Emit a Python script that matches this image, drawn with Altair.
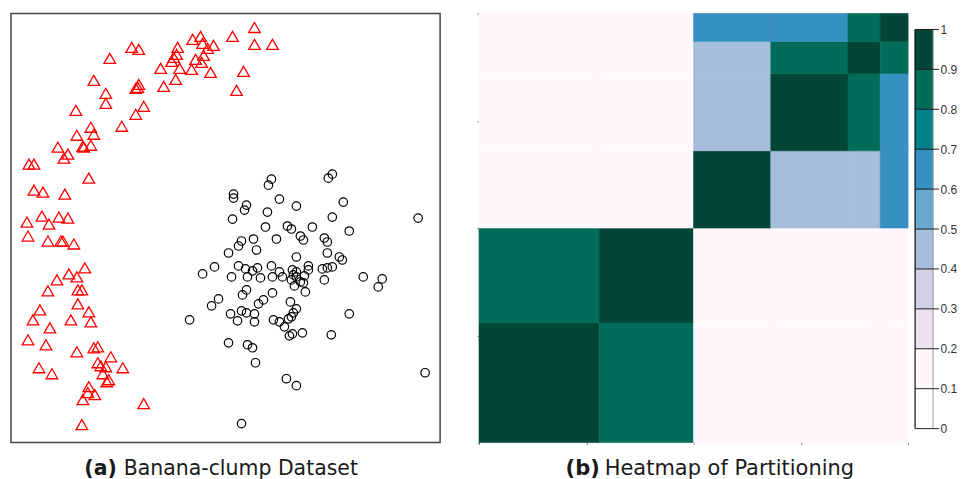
import altair as alt
import numpy as np
import pandas as pd

# ---------------- (a) Banana-clump dataset ----------------
banana_x = [254, 232, 254, 272, 200, 192, 202, 213, 207, 177, 131, 138, 109, 176, 173, 203,
            195, 171, 201, 160, 179, 191, 210, 243, 175, 163, 236, 93, 138, 137, 135, 105,
            105, 143, 135, 75, 121, 90, 93, 76, 82, 90, 57, 67, 63, 83, 28, 33,
            88, 33, 42, 64, 26, 41, 48, 58, 67, 27, 47, 60, 62, 73, 84, 68,
            76, 56, 47, 77, 81, 77, 39, 88, 32, 70, 90, 49, 27, 45, 76, 93,
            97, 110, 97, 100, 105, 122, 38, 51, 102, 108, 106, 88, 87, 94, 82, 143, 81]
banana_y = [26, 35, 43, 43, 35, 38, 42, 44, 47, 46, 46, 48, 57, 53, 56, 54,
            58, 60, 61, 67, 67, 68, 71, 70, 78, 85, 89, 79, 83, 86, 87, 92,
            102, 105, 113, 109, 125, 126, 133, 134, 145, 144, 146, 153, 157, 146, 163, 163,
            177, 189, 191, 193, 221, 215, 223, 216, 217, 235, 240, 240, 240, 243, 267, 273,
            276, 279, 290, 289, 289, 303, 309, 311, 319, 319, 321, 327, 339, 344, 351, 347,
            346, 356, 362, 365, 366, 367, 367, 373, 373, 379, 381, 386, 392, 394, 399, 403, 424]

clump_x = [332, 328, 271, 268, 233, 233, 279, 343, 246, 296, 244, 267, 332, 232, 418, 265,
           287, 291, 312, 349, 300, 303, 253, 241, 238, 276, 324, 327, 256, 228, 327, 296,
           339, 342, 214, 238, 245, 252, 257, 271, 279, 282, 202, 231, 247, 260, 272, 292,
           296, 308, 308, 322, 327, 332, 293, 296, 304, 291, 300, 303, 294, 324, 363, 382,
           378, 246, 242, 305, 272, 218, 211, 263, 258, 290, 296, 293, 291, 288, 241, 246,
           254, 230, 237, 254, 273, 279, 284, 349, 189, 302, 292, 289, 331, 228, 247, 252,
           255, 286, 296, 425, 241]
clump_y = [173, 177, 178, 184, 193, 197, 198, 201, 204, 205, 209, 211, 216, 218, 217, 226,
           225, 228, 226, 230, 235, 239, 238, 240, 245, 238, 237, 241, 249, 252, 252, 256,
           256, 259, 266, 265, 268, 270, 267, 265, 271, 276, 273, 276, 276, 277, 276, 269,
           271, 265, 269, 268, 267, 266, 274, 276, 275, 279, 281, 282, 285, 279, 276, 278,
           286, 289, 294, 291, 292, 298, 305, 299, 303, 301, 308, 312, 316, 318, 310, 312,
           313, 313, 320, 321, 319, 321, 326, 313, 319, 332, 333, 335, 334, 342, 344, 347,
           362, 378, 385, 372, 423]

# ---------------- (b) Heatmap of partitioning ----------------
cluster_sizes = [56, 44, 36, 36, 15, 13]
consensus = [
    [0.95, 0.85, 0.15, 0.15, 0.15, 0.15],
    [0.85, 0.95, 0.15, 0.15, 0.15, 0.15],
    [0.15, 0.15, 0.95, 0.45, 0.45, 0.65],
    [0.15, 0.15, 0.45, 0.95, 0.85, 0.65],
    [0.15, 0.15, 0.45, 0.85, 0.95, 0.85],
    [0.15, 0.15, 0.65, 0.65, 0.85, 0.95],
]
bin_edges = [0.1, 0.2, 0.3, 0.4, 0.5, 0.6, 0.7, 0.8, 0.9]
palette = ["#ffffff", "#fff7fb", "#ece2f0", "#d0d1e6", "#a6bddb",
           "#67a9cf", "#3690c0", "#02818a", "#016c59", "#014636"]
bar_lo = [0.0, 0.1, 0.2, 0.3, 0.4, 0.5, 0.6, 0.7, 0.8, 0.9]
bar_hi = [0.1, 0.2, 0.3, 0.4, 0.5, 0.6, 0.7, 0.8, 0.9, 1.0]
bar_ticks = [0, 0.1, 0.2, 0.3, 0.4, 0.5, 0.6, 0.7, 0.8, 0.9, 1]
heat_ticks = [0, 50, 100, 150, 200]

caption_a = ["(a)", "Banana-clump Dataset"]
caption_b = ["(b)", "Heatmap of Partitioning"]

CAP_FONT = "DejaVu Sans"
CAP_SIZE = 20.5
CAP_COLOR = "#1a1a1a"

# ---------------- left panel ----------------
df_ban = pd.DataFrame({"x": banana_x, "y": -np.array(banana_y)})
df_clu = pd.DataFrame({"x": clump_x, "y": -np.array(clump_y)})
xs = alt.Scale(domain=[10, 440], nice=False, zero=False)
ys = alt.Scale(domain=[-442, -12], nice=False, zero=False)

tri = alt.Chart(df_ban).mark_point(shape="triangle-up", filled=False, color="#ff0000",
                                   size=135, strokeWidth=1.3, opacity=1).encode(
    x=alt.X("x:Q", scale=xs, axis=None),
    y=alt.Y("y:Q", scale=ys, axis=None),
)
cir = alt.Chart(df_clu).mark_point(shape="circle", filled=False, color="#000000",
                                   size=72, strokeWidth=1.2, opacity=1).encode(
    x=alt.X("x:Q", scale=xs, axis=None),
    y=alt.Y("y:Q", scale=ys, axis=None),
)


def caption(parts, x_bold, x_text, size=CAP_SIZE):
    b = alt.Chart(pd.DataFrame({"t": [parts[0]]})).mark_text(
        align="right", baseline="alphabetic", font=CAP_FONT, fontSize=size,
        fontWeight="bold", color=CAP_COLOR).encode(
        text="t:N", x=alt.value(x_bold), y=alt.value(462))
    t = alt.Chart(pd.DataFrame({"t": [parts[1]]})).mark_text(
        align="left", baseline="alphabetic", font=CAP_FONT, fontSize=size,
        color=CAP_COLOR).encode(
        text="t:N", x=alt.value(x_text), y=alt.value(462))
    return [b, t]


left = alt.layer(tri, cir, *caption(caption_a, 106, 113)).properties(
    width=430, height=430,
    view=alt.ViewBackground(stroke="#444444", strokeWidth=1.5),
)

# ---------------- heatmap ----------------
ends = np.cumsum(cluster_sizes)
starts = ends - np.array(cluster_sizes)
rows = []
for i in range(len(cluster_sizes)):
    for j in range(len(cluster_sizes)):
        rows.append({"x": starts[j], "x2": ends[j], "y": starts[i], "y2": ends[i],
                     "v": consensus[i][j]})
df_heat = pd.DataFrame(rows)

cscale = alt.Scale(type="threshold", domain=bin_edges, range=palette)
tick_axis = dict(values=heat_ticks, labels=False, domain=False, grid=False,
                 tickSize=2, tickColor="#777777", tickWidth=1, title=None)

heat = alt.Chart(df_heat).mark_rect(strokeWidth=0.6).encode(
    x=alt.X("x:Q", scale=alt.Scale(domain=[0, 200], nice=False, zero=False),
            axis=alt.Axis(**tick_axis)),
    x2="x2:Q",
    y=alt.Y("y:Q", scale=alt.Scale(domain=[0, 200], nice=False, zero=False),
            axis=alt.Axis(**tick_axis)),
    y2="y2:Q",
    color=alt.Color("v:Q", scale=cscale, legend=None),
    stroke=alt.Stroke("v:Q", scale=cscale, legend=None),
)
heat_panel = alt.layer(heat, *caption(caption_b, 121, 126, 21)).properties(width=430, height=430)

# ---------------- colour bar ----------------
df_bar = pd.DataFrame({"lo": bar_lo, "hi": bar_hi,
                       "mid": (np.array(bar_lo) + np.array(bar_hi)) / 2})
bscale = alt.Scale(domain=[-0.035, 1.04], nice=False, zero=False)
bar_axis = alt.Axis(orient="right", values=bar_ticks, ticks=False, domain=False,
                    grid=False, labelPadding=7, labelFont="Liberation Sans",
                    labelFontSize=12, labelColor="#333333", title=None,
                    format="~g", labelFlush=False, labelOverlap=False)
bar = alt.Chart(df_bar).mark_rect(strokeWidth=0.5).encode(
    x=alt.value(0), x2=alt.value(18),
    y=alt.Y("lo:Q", scale=bscale, axis=bar_axis, title=None),
    y2="hi:Q",
    color=alt.Color("mid:Q", scale=cscale, legend=None),
    stroke=alt.Stroke("mid:Q", scale=cscale, legend=None),
)
df_ticks = pd.DataFrame({"lo": bar_ticks})
bar_tick_rules = alt.Chart(df_ticks).mark_rule(color="#222222", strokeWidth=1).encode(
    x=alt.value(0), x2=alt.value(24), y=alt.Y("lo:Q", scale=bscale, axis=bar_axis, title=None))
df_edge = pd.DataFrame({"lo": [0.0], "hi": [1.0]})
left_edge = alt.Chart(df_edge).mark_rule(color="#111111", strokeWidth=1.2).encode(
    x=alt.value(0), y=alt.Y("lo:Q", scale=bscale, axis=bar_axis, title=None), y2="hi:Q")
right_edge = alt.Chart(df_edge).mark_rule(color="#9a9a9a", strokeWidth=1).encode(
    x=alt.value(18), y=alt.Y("lo:Q", scale=bscale, axis=bar_axis, title=None), y2="hi:Q")
bar_panel = alt.layer(bar, right_edge, left_edge, bar_tick_rules).properties(width=18, height=430)

right = alt.hconcat(heat_panel, bar_panel, spacing=5)
chart = alt.hconcat(left, right, spacing=35).properties(
    padding={"left": 2, "top": 4, "right": 0, "bottom": 0},
    background="white",
).configure_view(stroke=None)

chart.save("out.html", embed_options={"renderer": "svg", "actions": False})
